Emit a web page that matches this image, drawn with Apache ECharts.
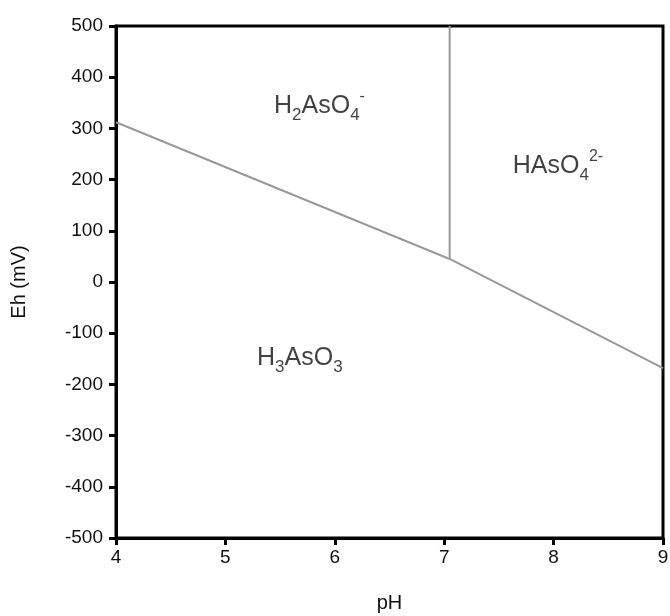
<!DOCTYPE html>
<html><head><meta charset="utf-8">
<script src="https://cdn.jsdelivr.net/npm/echarts@6/dist/echarts.min.js"></script>
<style>html,body{margin:0;padding:0;background:#fff}#c{width:670px;height:616px}</style>
</head><body><div id="c"></div>
<script>
var xTicks = [4, 5, 6, 7, 8, 9];
var yTicks = [-500, -400, -300, -200, -100, 0, 100, 200, 300, 400, 500];
var boundaryPH = [4, 7.05, 9];
var boundaryEh = [312, 45, -168];
var verticalPH = [7.05, 7.05];
var verticalEh = [45, 500];
var labelNames = ['H2AsO4-', 'HAsO42-', 'H3AsO3'];
var labelPH = [5.86, 8.04, 5.68];
var labelEh = [344, 227, -148];
var labelRich = [
  '{n|H}{sub|2}{n|AsO}{sub|4}{sup|-}',
  '{n|HAsO}{sub|4}{sup|2-}',
  '{n|H}{sub|3}{n|AsO}{sub|3}'
];

var chart = echarts.init(document.getElementById('c'));
var font = 'Liberation Sans, Arial, sans-serif';
var txt = '#111';
chart.setOption({
  animation: false,
  grid: {left: 116, right: 7, top: 26, bottom: 78, outerBoundsMode: 'none', containLabel: false,
         show: true, borderColor: '#000', borderWidth: 3, backgroundColor: '#fff'},
  xAxis: {
    type: 'value', min: 4, max: 9, interval: 1,
    name: 'pH', nameLocation: 'middle', nameGap: 55,
    nameTextStyle: {fontFamily: font, fontSize: 20, color: txt},
    axisLine: {show: true, onZero: false, lineStyle: {color: '#000', width: 3}},
    axisTick: {show: true, inside: false, length: 7, lineStyle: {color: '#000', width: 3}},
    axisLabel: {fontFamily: font, fontSize: 19, color: txt, margin: 10},
    splitLine: {show: false}
  },
  yAxis: {
    type: 'value', min: -500, max: 500, interval: 100,
    name: 'Eh (mV)', nameLocation: 'middle', nameGap: 87, nameRotate: 90,
    nameTextStyle: {fontFamily: font, fontSize: 20, color: txt},
    axisLine: {show: true, onZero: false, lineStyle: {color: '#000', width: 3}},
    axisTick: {show: true, inside: false, length: 7, lineStyle: {color: '#000', width: 3}},
    axisLabel: {fontFamily: font, fontSize: 19, color: txt, margin: 13},
    splitLine: {show: false}
  },
  series: [
    {type: 'line', data: boundaryPH.map(function(p, i){return [p, boundaryEh[i]];}),
     symbol: 'none', lineStyle: {color: '#999', width: 2}, silent: true},
    {type: 'line', data: verticalPH.map(function(p, i){return [p, verticalEh[i]];}),
     symbol: 'none', lineStyle: {color: '#999', width: 2}, silent: true},
    {type: 'scatter', symbolSize: 0,
     data: labelPH.map(function(p, i){return {value: [p, labelEh[i]], name: labelNames[i],
       label: {show: true, position: 'inside', formatter: labelRich[i]}};}),
     label: {show: true, color: txt, fontFamily: font,
       rich: {
         n: {fontSize: 25, fontFamily: font, color: txt, lineHeight: 30, verticalAlign: 'middle'},
         sub: {fontSize: 17, fontFamily: font, color: txt, lineHeight: 17, verticalAlign: 'bottom', padding: [0,0,-3,0]},
         sup: {fontSize: 16, fontFamily: font, color: txt, lineHeight: 16, verticalAlign: 'top', padding: [-2,0,0,0]}
       }}}
  ]
});
</script></body></html>
